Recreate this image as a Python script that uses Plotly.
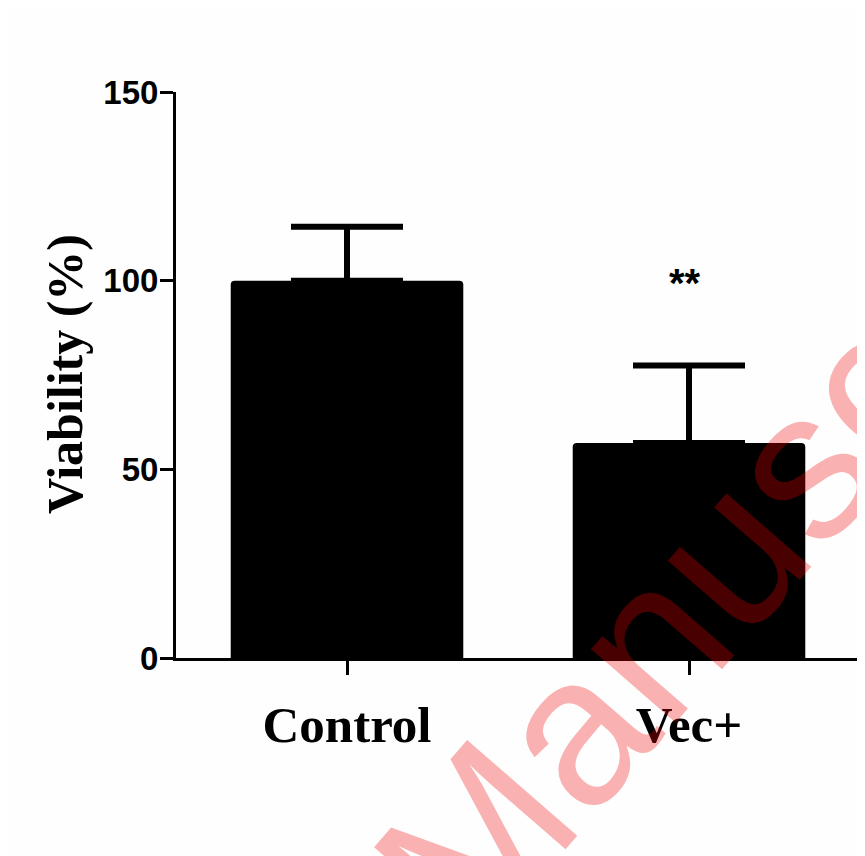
import plotly.graph_objects as go

categories = ["Control", "Vec+"]
viability = [100, 57]
sem_upper = [14.3, 20.5]
sig_labels = ["", "**"]
y_ticks = [0, 50, 100, 150]

fig = go.Figure()
fig.add_trace(go.Bar(
    x=categories, y=viability,
    marker=dict(color="black", line=dict(width=0)),
    error_y=dict(type="data", symmetric=False, array=sem_upper,
                 arrayminus=[0] * len(categories),
                 color="black", thickness=6, width=56),
    width=0.68,
    showlegend=False,
))

for cat, lab, v, e in zip(categories, sig_labels, viability, sem_upper):
    if lab:
        fig.add_annotation(x=cat, y=99.5, xref="x", yref="y", text=lab,
                           showarrow=False, yanchor="middle", xshift=-4,
                           font=dict(family="Liberation Sans", size=40,
                                     color="black", weight="bold"))

fig.add_annotation(text="Viability (%)", xref="paper", yref="paper",
                   x=-0.162, y=0.502, textangle=-90, showarrow=False,
                   xanchor="center", yanchor="middle",
                   font=dict(family="Liberation Serif", size=50,
                             color="black", weight="bold"))

fig.add_annotation(text="Manuscript", xref="paper", yref="paper",
                   x=0.85, y=0.25, textangle=-49, showarrow=False,
                   xanchor="center", yanchor="middle",
                   font=dict(family="Liberation Sans", size=212,
                             color="rgba(238,0,0,0.3)"))

fig.update_layout(
    width=865, height=856,
    margin=dict(l=168, r=13, t=84, b=206, pad=0),
    paper_bgcolor="#fefefe", plot_bgcolor="#fefefe",
    barcornerradius=4,
    xaxis=dict(showline=True, linecolor="black", linewidth=3,
               ticks="outside", ticklen=14, tickwidth=3, tickcolor="black",
               showgrid=False, zeroline=False, ticklabelstandoff=6,
               tickfont=dict(family="Liberation Serif", size=51,
                             color="black", weight="bold")),
    yaxis=dict(range=[0, 150], showline=True, linecolor="black", linewidth=3,
               ticks="outside", ticklen=13, tickwidth=3, tickcolor="black",
               tickvals=y_ticks, showgrid=False, zeroline=False,
               ticklabelstandoff=-5,
               tickfont=dict(family="Liberation Sans", size=33,
                             color="black", weight="bold")),
)

fig.write_html("out.html")
